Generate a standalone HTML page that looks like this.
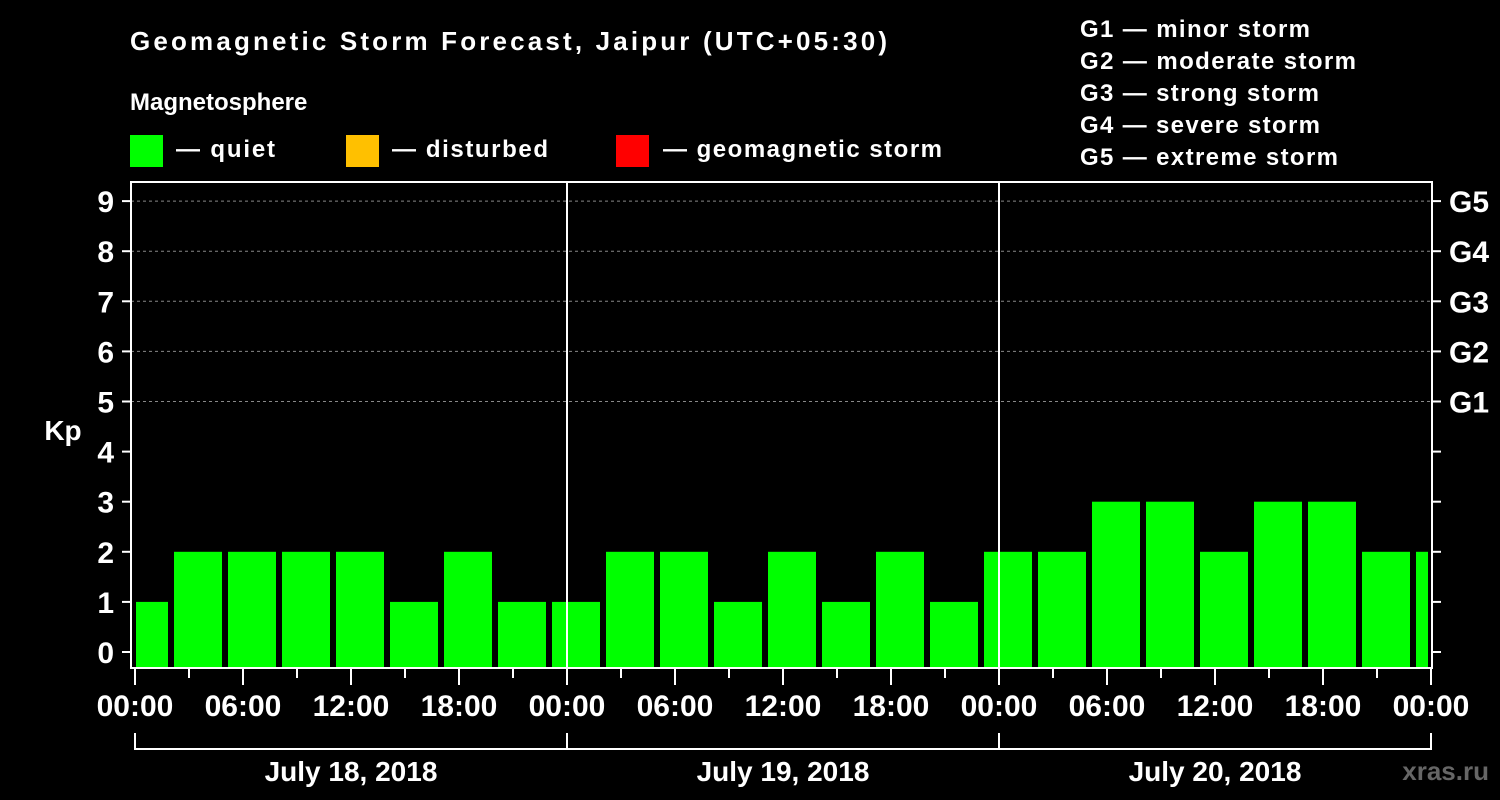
<!DOCTYPE html>
<html><head><meta charset="utf-8"><style>
html,body{margin:0;padding:0;background:#000;}
svg{display:block;font-family:"Liberation Sans",sans-serif;font-weight:bold;}
</style></head><body>
<svg id="chart" width="1500" height="800" xmlns="http://www.w3.org/2000/svg">
<rect width="1500" height="800" fill="#000"/>
<text x="130" y="50" fill="#fff" font-size="26" textLength="757">Geomagnetic Storm Forecast, Jaipur (UTC+05:30)</text>
<text x="130" y="110" fill="#fff" font-size="24">Magnetosphere</text>
<g><rect x="130" y="135" width="33" height="32" fill="#00ff00"/><text x="176" y="157" fill="#fff" font-size="24" textLength="99">— quiet</text></g>
<g><rect x="346" y="135" width="33" height="32" fill="#ffc000"/><text x="392" y="157" fill="#fff" font-size="24" textLength="156">— disturbed</text></g>
<g><rect x="616" y="135" width="33" height="32" fill="#ff0000"/><text x="663" y="157" fill="#fff" font-size="24" textLength="279">— geomagnetic storm</text></g>
<g fill="#fff" font-size="24">
<text x="1080" y="37" textLength="230">G1 — minor storm</text>
<text x="1080" y="69" textLength="276">G2 — moderate storm</text>
<text x="1080" y="101" textLength="239">G3 — strong storm</text>
<text x="1080" y="133" textLength="240">G4 — severe storm</text>
<text x="1080" y="165" textLength="258">G5 — extreme storm</text>
</g>
<text x="63" y="440" fill="#fff" font-size="28" text-anchor="middle">Kp</text>
<text x="1489" y="780" fill="#666" font-size="26" text-anchor="end">xras.ru</text>
<g id="plot"></g>
</svg>
<script>
const kpValues=[1,2,2,2,2,1,2,1, 1,2,2,1,2,1,2,1, 2,2,3,3,2,3,3,2,2];
const xTickLabels=["00:00","06:00","12:00","18:00"];
const dayLabels=["July 18, 2018","July 19, 2018","July 20, 2018"];
const gLabels=["G1","G2","G3","G4","G5"];
const NS="http://www.w3.org/2000/svg";
const g=document.getElementById('plot');
const L=131,R=1432,T=182,B=668,X0=135,PXH=18;
const xs=h=>X0+h*PXH;
const ys=v=>652-v*50.1;
function mk(t,a){const e=document.createElementNS(NS,t);for(const k in a)e.setAttribute(k,a[k]);g.appendChild(e);return e;}
// gridlines
for(let v=5;v<=9;v++){const l=mk('line',{x1:L,x2:R,y1:ys(v),y2:ys(v),stroke:'#888','stroke-dasharray':'3,3','stroke-width':1});

}
// bars
kpValues.forEach((v,i)=>{const c=0.5+3*i;let x1=xs(c)-24,x2=xs(c)+24;x1=Math.max(x1,X0+1);x2=Math.min(x2,R-4);
const col=v>=5?'#ff0000':(v>=4?'#ffc000':'#00ff00');
const r=mk('rect',{x:x1,y:ys(v),width:x2-x1,height:B-ys(v),fill:col});

});
// day separators
for(let d=1;d<3;d++){const l=mk('line',{x1:xs(24*d),x2:xs(24*d),y1:T,y2:B,stroke:'#fff','stroke-width':2});

}
// axes box
const box=mk('rect',{x:L,y:T,width:R-L,height:B-T,fill:'none',stroke:'#fff','stroke-width':2});


// y ticks
for(let v=0;v<=9;v++){mk('line',{x1:122,x2:L,y1:ys(v),y2:ys(v),stroke:'#fff','stroke-width':2});
mk('line',{x1:R,x2:1441,y1:ys(v),y2:ys(v),stroke:'#fff','stroke-width':2});
const t=mk('text',{x:114,y:ys(v)+11,fill:'#fff','font-size':30,'text-anchor':'end'});t.textContent=v;

}
gLabels.forEach((s,i)=>{const t=mk('text',{x:1449,y:ys(5+i)+11,fill:'#fff','font-size':30});t.textContent=s;

});
// x ticks
for(let h=0;h<=72;h+=3){const major=h%6===0;mk('line',{x1:xs(h),x2:xs(h),y1:B,y2:major?685:678,stroke:'#fff','stroke-width':2});}
for(let h=0;h<=72;h+=6){const t=mk('text',{x:xs(h),y:716,fill:'#fff','font-size':30,'text-anchor':'middle'});t.textContent=xTickLabels[(h/6)%4];

}
// day bracket
mk('polyline',{points:`${xs(0)},733 ${xs(0)},749 ${xs(72)},749 ${xs(72)},733`,fill:'none',stroke:'#fff','stroke-width':2});
for(let d=1;d<3;d++)mk('line',{x1:xs(24*d),x2:xs(24*d),y1:733,y2:749,stroke:'#fff','stroke-width':2});
dayLabels.forEach((s,d)=>{const t=mk('text',{x:xs(24*d+12),y:781,fill:'#fff','font-size':28,'text-anchor':'middle'});t.textContent=s;

});
</script>
</body></html>
